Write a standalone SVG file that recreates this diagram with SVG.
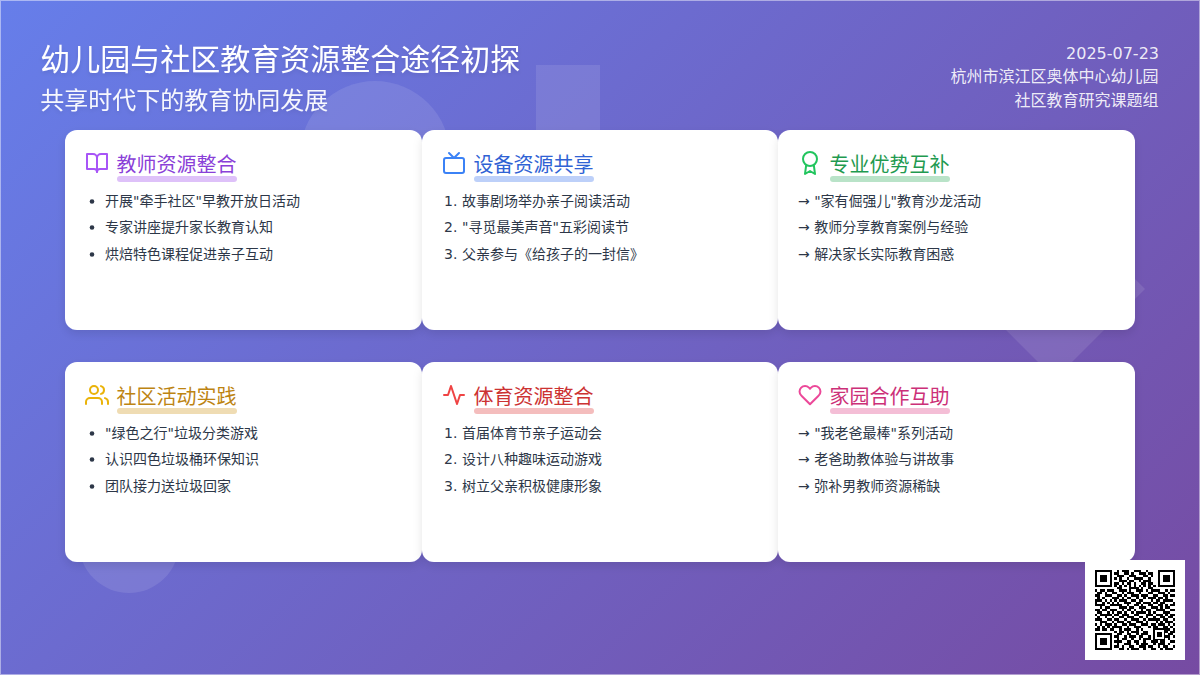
<svg xmlns="http://www.w3.org/2000/svg" width="1200" height="675" viewBox="0 0 1200 675">
<defs>
<linearGradient id="bg" gradientUnits="userSpaceOnUse" x1="131.25" y1="-131.25" x2="1068.75" y2="806.25"><stop offset="0" stop-color="#667eea"/><stop offset="1" stop-color="#764ba2"/></linearGradient>
<filter id="ts" x="-5%" y="-30%" width="110%" height="170%"><feDropShadow dx="0" dy="2" stdDeviation="2" flood-color="#000" flood-opacity=".1"/></filter>
<filter id="cs" x="-10%" y="-15%" width="120%" height="135%"><feDropShadow dx="0" dy="4" stdDeviation="5" flood-color="#000" flood-opacity=".1"/></filter>
<g id="finder"><rect x="0" y="0" width="7" height="7"/><rect x="1" y="1" width="5" height="5" fill="#fff"/><rect x="2" y="2" width="3" height="3"/></g>
</defs>
<style>
text{font-family:"DejaVu Sans","Noto Sans CJK SC",sans-serif}
.t1{font-size:30px;fill:#fff}
.t2{font-size:24px;fill:#fff;fill-opacity:.95}
.m{font-size:16px;fill:#fff;fill-opacity:.9;text-anchor:end}
.card{fill:#fff;filter:url(#cs)}
.h{font-size:20px}
.l{font-size:14px;fill:#2d3748}
.i{fill:none;stroke-width:2;stroke-linecap:round;stroke-linejoin:round}
.u{fill-opacity:.3}
.b{fill:#2d3748}
.deco{fill:#fff;fill-opacity:.1}
.purple{fill:#9333ea}.blue{fill:#2563eb}.green{fill:#16a34a}.yellow{fill:#ca8a04}.red{fill:#dc2626}.pink{fill:#db2777}
.h.purple{fill:#8a3fd8}.h.blue{fill:#2f62d4}.h.green{fill:#1f9a50}.h.yellow{fill:#bd8412}.h.red{fill:#cc3232}.h.pink{fill:#cc3078}
</style>
<rect width="1200" height="675" fill="url(#bg)"/>
<rect x=".5" y=".5" width="1199" height="674" fill="none" stroke="#fff" stroke-opacity=".45"/>
<circle class="deco" cx="375" cy="156" r="75"/>
<rect class="deco" x="536" y="65" width="64" height="70"/>
<polygon class="deco" points="1055,199 1145,289 1055,379 965,289"/>
<circle class="deco" cx="129" cy="543" r="50"/>

<g id="header">
<text class="t1" x="40.3" y="70" filter="url(#ts)">幼儿园与社区教育资源整合途径初探</text>
<text class="t2" x="40.3" y="109" filter="url(#ts)">共享时代下的教育协同发展</text>
<text class="m" x="1159" y="59">2025-07-23</text>
<text class="m" x="1158.5" y="82">杭州市滨江区奥体中心幼儿园</text>
<text class="m" x="1158.5" y="106">社区教育研究课题组</text>
</g>

<g id="connectors"/>

<g id="card-teacher">
<rect class="card" x="65" y="130" width="357" height="200" rx="12"/>
<g class="i" stroke="#a855f7" transform="translate(85,151)"><path d="M2 3h6a4 4 0 0 1 4 4v14a3 3 0 0 0-3-3H2z"/><path d="M22 3h-6a4 4 0 0 0-4 4v14a3 3 0 0 1 3-3h7z"/></g>
<rect class="u purple" x="117" y="176" width="120" height="6" rx="3"/>
<text class="h purple" x="116.4" y="172">教师资源整合</text>
<circle class="b" cx="92" cy="201.5" r="2.3"/><circle class="b" cx="92" cy="227.5" r="2.3"/><circle class="b" cx="92" cy="254.5" r="2.3"/>
<text class="l" x="105" y="206">开展"牵手社区"早教开放日活动</text>
<text class="l" x="105" y="232">专家讲座提升家长教育认知</text>
<text class="l" x="105" y="259">烘焙特色课程促进亲子互动</text>
</g>

<g id="card-equipment">
<rect class="card" x="422" y="130" width="356" height="200" rx="12"/>
<g class="i" stroke="#3b82f6" transform="translate(442,151)"><rect x="2" y="7" width="20" height="15" rx="2"/><polyline points="17 2 12 7 7 2"/></g>
<rect class="u blue" x="474" y="176" width="120" height="6" rx="3"/>
<text class="h blue" x="473.4" y="172">设备资源共享</text>
<text class="l" x="444" y="206">1.</text><text class="l" x="444" y="232">2.</text><text class="l" x="444" y="259">3.</text>
<text class="l" x="462" y="206">故事剧场举办亲子阅读活动</text>
<text class="l" x="462" y="232">"寻觅最美声音"五彩阅读节</text>
<text class="l" x="462" y="259">父亲参与《给孩子的一封信》</text>
</g>

<g id="card-expertise">
<rect class="card" x="778" y="130" width="357" height="200" rx="12"/>
<g class="i" stroke="#22c55e" transform="translate(798,151)"><circle cx="12" cy="8" r="7"/><polyline points="8.21 13.89 7 23 12 20 17 23 15.79 13.88"/></g>
<rect class="u green" x="830" y="176" width="120" height="6" rx="3"/>
<text class="h green" x="829.4" y="172">专业优势互补</text>
<text class="l" x="798" y="206">→ "家有倔强儿"教育沙龙活动</text>
<text class="l" x="798" y="232">→ 教师分享教育案例与经验</text>
<text class="l" x="798" y="259">→ 解决家长实际教育困惑</text>
</g>

<g id="card-community">
<rect class="card" x="65" y="362" width="357" height="200" rx="12"/>
<g class="i" stroke="#eab308" transform="translate(85,383)"><path d="M17 21v-2a4 4 0 0 0-4-4H5a4 4 0 0 0-4 4v2"/><circle cx="9" cy="7" r="4"/><path d="M23 21v-2a4 4 0 0 0-3-3.87"/><path d="M16 3.13a4 4 0 0 1 0 7.75"/></g>
<rect class="u yellow" x="117" y="408" width="120" height="6" rx="3"/>
<text class="h yellow" x="116.4" y="404">社区活动实践</text>
<circle class="b" cx="92" cy="433.5" r="2.3"/><circle class="b" cx="92" cy="459.5" r="2.3"/><circle class="b" cx="92" cy="486.5" r="2.3"/>
<text class="l" x="105" y="438">"绿色之行"垃圾分类游戏</text>
<text class="l" x="105" y="464">认识四色垃圾桶环保知识</text>
<text class="l" x="105" y="491">团队接力送垃圾回家</text>
</g>

<g id="card-sports">
<rect class="card" x="422" y="362" width="356" height="200" rx="12"/>
<g class="i" stroke="#ef4444" transform="translate(442,383)"><polyline points="22 12 18 12 15 21 9 3 6 12 2 12"/></g>
<rect class="u red" x="474" y="408" width="120" height="6" rx="3"/>
<text class="h red" x="473.4" y="404">体育资源整合</text>
<text class="l" x="444" y="438">1.</text><text class="l" x="444" y="464">2.</text><text class="l" x="444" y="491">3.</text>
<text class="l" x="462" y="438">首届体育节亲子运动会</text>
<text class="l" x="462" y="464">设计八种趣味运动游戏</text>
<text class="l" x="462" y="491">树立父亲积极健康形象</text>
</g>

<g id="card-family">
<rect class="card" x="778" y="362" width="357" height="200" rx="12"/>
<g class="i" stroke="#ec4899" transform="translate(798,383)"><path d="M20.84 4.61a5.5 5.5 0 0 0-7.78 0L12 5.67l-1.06-1.06a5.5 5.5 0 0 0-7.78 7.78l1.06 1.06L12 21.23l7.78-7.78 1.06-1.06a5.5 5.5 0 0 0 0-7.78z"/></g>
<rect class="u pink" x="830" y="408" width="120" height="6" rx="3"/>
<text class="h pink" x="829.4" y="404">家园合作互助</text>
<text class="l" x="798" y="438">→ "我老爸最棒"系列活动</text>
<text class="l" x="798" y="464">→ 老爸助教体验与讲故事</text>
<text class="l" x="798" y="491">→ 弥补男教师资源稀缺</text>
</g>

<g id="qr">
<rect x="1085" y="560" width="100" height="100" fill="#fff"/>
<g transform="translate(1095,570) scale(2.4242)" shape-rendering="crispEdges">
<use href="#finder"/><use href="#finder" x="26"/><use href="#finder" y="26"/><use href="#finder" x="24" y="24" transform="translate(24,24) scale(.714) translate(-24,-24)"/>
<path fill="none" stroke="#000" stroke-width="1" d="M9 .5h1M11 .5h3M16 .5h3M21 .5h1
M8 1.5h2M12 1.5h2M15 1.5h1M18 1.5h3M22 1.5h2
M9 2.5h3M14 2.5h3M20 2.5h2M23 2.5h1
M8 3.5h1M10 3.5h1M13 3.5h1M16 3.5h4M22 3.5h1
M10 4.5h3M14 4.5h2M18 4.5h1M20 4.5h3
M8 5.5h2M11 5.5h1M13 5.5h2M16 5.5h1M19 5.5h2M22 5.5h2
M8 6.5h1M10 6.5h1M12 6.5h1M14 6.5h1M16 6.5h1M18 6.5h1M20 6.5h1M22 6.5h1M24 6.5h1
M9 7.5h2M14 7.5h4M19 7.5h1M22 7.5h2
M0 8.5h1M2 8.5h2M5 8.5h3M10 8.5h3M14 8.5h1M17 8.5h3M21 8.5h1M23 8.5h4M29 8.5h1M31 8.5h2
M1 9.5h2M4 9.5h1M7 9.5h2M11 9.5h1M13 9.5h3M18 9.5h1M22 9.5h2M26 9.5h3M30 9.5h1
M0 10.5h2M4 10.5h3M9 10.5h2M12 10.5h1M15 10.5h3M19 10.5h3M24 10.5h2M28 10.5h2M31 10.5h2
M1 11.5h1M3 11.5h1M7 11.5h3M11 11.5h1M13 11.5h2M17 11.5h1M20 11.5h1M22 11.5h3M26 11.5h2M29 11.5h1
M0 12.5h3M4 12.5h1M6 12.5h1M8 12.5h1M10 12.5h3M15 12.5h2M18 12.5h2M23 12.5h1M25 12.5h2M28 12.5h4
M0 13.5h1M3 13.5h1M5 13.5h1M7 13.5h1M9 13.5h1M12 13.5h3M17 13.5h2M20 13.5h3M24 13.5h2M27 13.5h2M32 13.5h1
M0 14.5h4M6 14.5h5M13 14.5h1M16 14.5h2M19 14.5h1M22 14.5h2M26 14.5h2M29 14.5h1M31 14.5h2
M2 15.5h1M4 15.5h2M10 15.5h3M14 15.5h2M18 15.5h3M23 15.5h3M27 15.5h1M29 15.5h2
M0 16.5h2M3 16.5h2M6 16.5h3M11 16.5h1M13 16.5h2M16 16.5h1M19 16.5h1M21 16.5h2M25 16.5h4M31 16.5h2
M1 17.5h2M5 17.5h1M7 17.5h1M9 17.5h2M12 17.5h1M15 17.5h1M17 17.5h4M22 17.5h1M24 17.5h1M28 17.5h3
M0 18.5h1M2 18.5h5M8 18.5h2M11 18.5h3M16 18.5h2M21 18.5h3M25 18.5h3M29 18.5h1M31 18.5h2
M1 19.5h1M4 19.5h1M7 19.5h1M10 19.5h2M13 19.5h3M18 19.5h2M21 19.5h1M24 19.5h1M27 19.5h2M30 19.5h2
M0 20.5h3M5 20.5h2M8 20.5h2M12 20.5h1M15 20.5h3M20 20.5h1M22 20.5h5M28 20.5h2M32 20.5h1
M2 21.5h3M7 21.5h1M9 21.5h3M13 21.5h2M17 21.5h3M21 21.5h1M25 21.5h1M27 21.5h1M29 21.5h3
M0 22.5h1M2 22.5h1M4 22.5h3M8 22.5h1M11 22.5h2M14 22.5h3M19 22.5h3M23 22.5h2M26 22.5h3M30 22.5h1M32 22.5h1
M1 23.5h1M3 23.5h1M5 23.5h1M7 23.5h4M13 23.5h1M16 23.5h3M22 23.5h1M24 23.5h2M28 23.5h2M31 23.5h1
M0 24.5h2M3 24.5h2M6 24.5h2M10 24.5h1M12 24.5h3M17 24.5h1M19 24.5h1M29 24.5h2M32 24.5h1
M8 25.5h1M10 25.5h2M13 25.5h1M15 25.5h3M20 25.5h2M29 25.5h1M31 25.5h2
M9 26.5h2M13 26.5h2M17 26.5h1M19 26.5h3M30 26.5h2
M8 27.5h2M12 27.5h1M14 27.5h3M18 27.5h2M22 27.5h1M29 27.5h2M32 27.5h1
M9 28.5h1M11 28.5h2M15 28.5h1M18 28.5h1M20 28.5h3M30 28.5h1
M8 29.5h3M13 29.5h2M16 29.5h2M20 29.5h1M23 29.5h3M27 29.5h2M31 29.5h2
M9 30.5h1M12 30.5h3M17 30.5h1M19 30.5h3M24 30.5h1M26 30.5h3M30 30.5h1
M8 31.5h2M11 31.5h1M14 31.5h2M18 31.5h3M22 31.5h2M26 31.5h1M28 31.5h2M32 31.5h1
M10 32.5h2M13 32.5h1M15 32.5h3M20 32.5h1M23 32.5h2M27 32.5h1M29 32.5h3"/>
</g>
</g>
</svg>
